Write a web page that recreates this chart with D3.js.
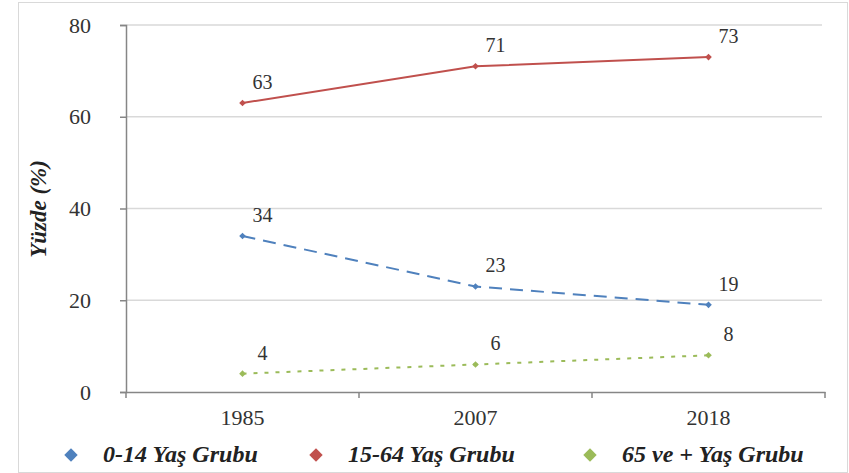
<!DOCTYPE html>
<html><head><meta charset="utf-8">
<script src="https://cdn.jsdelivr.net/npm/d3@7"></script>
<style>body{margin:0;background:#fff}svg{display:block}</style>
</head><body><svg id="c" width="849" height="473" font-family="Liberation Serif"></svg>
<script>
const categories = ["1985", "2007", "2018"];
const yTicks = [0, 20, 40, 60, 80];
const seriesNames = ["0-14 Yaş Grubu", "15-64 Yaş Grubu", "65 ve + Yaş Grubu"];
const young = [34, 23, 19];
const working = [63, 71, 73];
const elderly = [4, 6, 8];
const yTitle = "Yüzde (%)";

const colors = ["#4f81bd", "#c0504d", "#9bbb59"];
const dashes = ["13,8", null, "4,7"];
const series = [young, working, elderly];

const svg = d3.select("#c");
const font = "Liberation Serif";
svg.append("rect").attr("x",18.5).attr("y",2.5).attr("width",829).attr("height",470).attr("fill","#fff").attr("stroke","#d9d9d9");

const x = d3.scaleBand().domain(categories).range([126, 825]);
const y = d3.scaleLinear().domain([0, 80]).range([392, 25]);

svg.append("g").selectAll("line").data(yTicks.filter(d=>d>0)).join("line")
  .attr("x1",126).attr("x2",822).attr("y1",d=>y(d)).attr("y2",d=>y(d))
  .attr("stroke","#d9d9d9").attr("stroke-width",1.5);

const ya = svg.append("g").attr("transform","translate(126,0)")
  .call(d3.axisLeft(y).tickValues(yTicks).tickSize(6).tickPadding(29));
ya.attr("font-family",font).attr("font-size",22);
ya.select(".domain").attr("stroke","#868686").attr("stroke-width",1.5);
ya.selectAll(".tick line").attr("stroke","#868686").attr("stroke-width",1.5);
ya.selectAll("text").attr("font-family",font).attr("font-size",22).attr("fill","#333");

const xa = svg.append("g").attr("transform","translate(0,392)")
  .call(d3.axisBottom(x).tickSize(0).tickPadding(17));
xa.attr("font-family",font).attr("font-size",22);
xa.select(".domain").attr("stroke","#868686").attr("stroke-width",1.5);
xa.selectAll("text").attr("font-family",font).attr("font-size",22).attr("fill","#333");
svg.append("g").selectAll("line").data(categories.concat(["end"])).join("line")
  .attr("x1",(d,i)=>i<3?x(d):x.range()[1]).attr("x2",(d,i)=>i<3?x(d):x.range()[1])
  .attr("y1",392).attr("y2",398).attr("stroke","#868686").attr("stroke-width",1.5);

const cx = i => x(categories[i]) + x.bandwidth()/2;
const line = d3.line().x((d,i)=>cx(i)).y(d=>y(d));
series.forEach((s,k)=>{
  svg.append("path").datum(s).attr("d",line).attr("fill","none")
    .attr("stroke",colors[k]).attr("stroke-width",2)
    .attr("stroke-dasharray",dashes[k]);
  svg.append("g").selectAll("path").data(s).join("path")
    .attr("d",d3.symbol(d3.symbolSquare,22))
    .attr("transform",(d,i)=>`translate(${cx(i)},${y(d)}) rotate(45)`)
    .attr("fill",colors[k]);
  svg.append("g").selectAll("text").data(s).join("text")
    .attr("x",(d,i)=>cx(i)+20)
    .attr("y",(d,i)=>y(d)-14)
    .attr("text-anchor","middle")
    .attr("font-family",font).attr("font-size",20).attr("fill","#333")
    .text(d=>d);
});

svg.append("text").attr("transform","translate(46,209) rotate(-90)")
  .attr("text-anchor","middle").attr("font-family",font).attr("font-size",23)
  .attr("font-weight","bold").attr("font-style","italic").attr("fill","#222").text(yTitle);

const lx = [71, 316, 590];
const lg = svg.append("g").selectAll("g").data(seriesNames).join("g")
  .attr("transform",(d,i)=>`translate(${lx[i]},455)`);
lg.append("path").attr("d",d3.symbol(d3.symbolSquare,90)).attr("transform","rotate(45)").attr("fill",(d,i)=>colors[i]);
lg.append("text").attr("x",32).attr("y",7).attr("font-family",font).attr("font-size",24)
  .attr("font-weight","bold").attr("font-style","italic").attr("fill","#222").text(d=>d);
</script></body></html>
